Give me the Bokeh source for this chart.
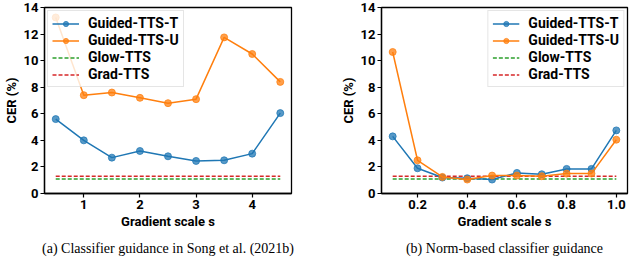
from bokeh.plotting import figure
from bokeh.layouts import row
from bokeh.models import Range1d, FixedTicker, PrintfTickFormatter, Title
from bokeh.embed import file_html
from bokeh.resources import INLINE

# ---- data (a) Classifier guidance in Song et al. (2021b)
s_a = [0.5, 1.0, 1.5, 2.0, 2.5, 3.0, 3.5, 4.0, 4.5]
tts_t_a = [5.6, 4.0, 2.7, 3.2, 2.8, 2.45, 2.5, 3.0, 6.05]
tts_u_a = [13.25, 7.4, 7.6, 7.2, 6.8, 7.1, 11.75, 10.5, 8.4]
glow_a = [1.1] * len(s_a)
grad_a = [1.3] * len(s_a)
xticks_a = [1, 2, 3, 4]

# ---- data (b) Norm-based classifier guidance
s_b = [0.1, 0.2, 0.3, 0.4, 0.5, 0.6, 0.7, 0.8, 0.9, 1.0]
tts_t_b = [4.3, 1.9, 1.2, 1.15, 1.05, 1.55, 1.45, 1.85, 1.85, 4.75]
tts_u_b = [10.65, 2.5, 1.25, 1.05, 1.35, 1.35, 1.3, 1.5, 1.5, 4.05]
glow_b = [1.1] * len(s_b)
grad_b = [1.3] * len(s_b)
xticks_b = [0.2, 0.4, 0.6, 0.8, 1.0]

yticks = [0, 2, 4, 6, 8, 10, 12, 14]

BLUE, ORANGE, GREEN, RED = "#1f77b4", "#ff7f0e", "#2ca02c", "#d62728"
SANS = "Roboto"
SERIF = "Liberation Serif"
FS_AX = "13px"
FS_LG = "14px"


def make(s, t, u, glow, grad, xticks, xfmt, caption, legend_loc, width, bl, br):
    pad = (s[-1] - s[0]) * 0.05
    p = figure(width=width, height=262, output_backend="svg", toolbar_location=None,
               x_range=Range1d(s[0] - pad, s[-1] + pad), y_range=Range1d(0, 14),
               min_border_left=bl, min_border_right=br, min_border_top=7,
               min_border_bottom=10)
    p.grid.visible = False
    p.outline_line_color = "black"
    p.outline_line_width = 1.3
    p.background_fill_color = "white"
    p.border_fill_color = "white"

    p.line(s, glow, color=GREEN, line_width=1.5, line_dash="4 2", legend_label="Glow-TTS")
    p.line(s, grad, color=RED, line_width=1.5, line_dash="4 2", legend_label="Grad-TTS")
    p.line(s, t, color=BLUE, line_width=1.5, legend_label="Guided-TTS-T")
    p.scatter(s, t, color=BLUE, size=7, alpha=0.75, legend_label="Guided-TTS-T")
    p.line(s, u, color=ORANGE, line_width=1.5, legend_label="Guided-TTS-U")
    p.scatter(s, u, color=ORANGE, size=7, alpha=0.75, legend_label="Guided-TTS-U")

    items = p.legend.items
    order = ["Guided-TTS-T", "Guided-TTS-U", "Glow-TTS", "Grad-TTS"]
    p.legend.items = sorted(items, key=lambda it: order.index(it.label.value))

    for ax in (p.xaxis, p.yaxis):
        ax.axis_line_color = "black"
        ax.axis_line_width = 1.3
        ax.major_tick_line_color = "black"
        ax.major_tick_line_width = 1.2
        ax.major_tick_in = 0
        ax.major_tick_out = 4
        ax.minor_tick_line_color = None
        ax.major_label_text_font = SANS
        ax.major_label_text_font_style = "bold"
        ax.major_label_text_font_size = FS_AX
        ax.major_label_text_color = "black"
        ax.axis_label_text_font = SANS
        ax.axis_label_text_font_style = "bold"
        ax.axis_label_text_font_size = FS_AX
        ax.axis_label_text_color = "black"
        ax.major_label_standoff = 2
        ax.axis_label_standoff = 2
    p.xaxis.ticker = FixedTicker(ticks=xticks)
    p.xaxis.formatter = PrintfTickFormatter(format=xfmt)
    p.yaxis.ticker = FixedTicker(ticks=yticks)
    p.xaxis.axis_label = "Gradient scale s"
    p.yaxis.axis_label = "CER (%)"

    lg = p.legend[0]
    lg.location = legend_loc
    lg.label_text_font = SANS
    lg.label_text_font_style = "bold"
    lg.label_text_font_size = FS_LG
    lg.label_text_color = "black"
    lg.glyph_width = 27
    lg.glyph_height = 13
    lg.label_height = 13
    lg.label_standoff = 9
    lg.spacing = 1
    lg.padding = 4
    lg.margin = 3
    lg.border_line_color = "#cccccc"
    lg.border_line_width = 1
    lg.background_fill_alpha = 0.8

    cap = Title(text=caption, align="center", text_font=SERIF, text_font_style="normal",
                text_font_size="14px", text_color="black", standoff=14)
    p.add_layout(cap, "below")
    return p


pa = make(s_a, tts_t_a, tts_u_a, glow_a, grad_a, xticks_a, "%d",
          "(a) Classifier guidance in Song et al. (2021b)", "top_left", 320, 31, 29)
pb = make(s_b, tts_t_b, tts_u_b, glow_b, grad_b, xticks_b, "%.1f",
          "(b) Norm-based classifier guidance", "top_right", 312, 61, 5)

layout = row(pa, pb)
open("out.html", "w").write(file_html(layout, INLINE))
